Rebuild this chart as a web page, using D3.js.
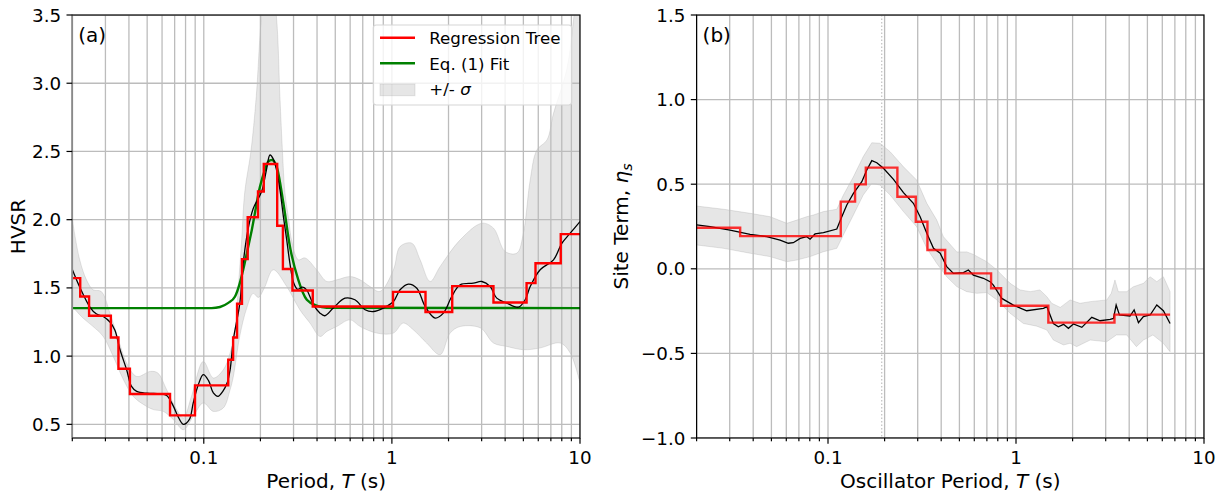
<!DOCTYPE html>
<html><head><meta charset="utf-8">
<script src="https://cdn.jsdelivr.net/npm/d3@7"></script>
<style>body{margin:0;background:#fff} svg{display:block} text{font-family:"DejaVu Sans",sans-serif;fill:#000}</style>
</head><body><svg id="c" width="1225" height="496"></svg>
<script>
// ---------- Panel (a) data ----------
const hvsrT = [0.02,0.022,0.0248,0.0268,0.0292,0.0317,0.0337,0.0358,0.0389,0.0412,0.044,0.050,0.0589,0.0635,0.069,0.0728,0.0779,0.0837,0.0879,0.0935,0.0994,0.106,0.1124,0.119,0.126,0.133,0.138,0.1436,0.1555,0.162,0.172,0.183,0.203,0.215,0.2249,0.235,0.244,0.254,0.265,0.276,0.287,0.3,0.315,0.335,0.352,0.383,0.415,0.44,0.488,0.563,0.636,0.72,0.797,0.90,1.019,1.105,1.224,1.357,1.502,1.697,1.878,2.08,2.306,2.71,3.008,3.33,3.61,4.08,4.71,5.11,5.435,6.14,7.23,8.02,8.87,10];
const hvsrMean = [1.635,1.50,1.36,1.31,1.29,1.25,1.19,1.05,0.90,0.78,0.742,0.728,0.724,0.712,0.632,0.56,0.50,0.534,0.657,0.79,0.864,0.82,0.73,0.705,0.74,0.803,0.90,1.12,1.389,1.68,1.93,2.08,2.206,2.36,2.474,2.44,2.36,2.22,2.023,1.852,1.68,1.54,1.49,1.505,1.486,1.376,1.315,1.296,1.352,1.425,1.413,1.34,1.327,1.352,1.40,1.486,1.528,1.498,1.364,1.279,1.315,1.437,1.523,1.535,1.547,1.51,1.425,1.389,1.359,1.413,1.51,1.633,1.706,1.828,1.901,1.986];

const hvsrUpT = [0.02,0.0219,0.0238,0.0258,0.0285,0.0317,0.0352,0.0389,0.044,0.052,0.057,0.0635,0.0718,0.0779,0.086,0.0994,0.1124,0.127,0.138,0.1466,0.1525,0.159,0.165,0.178,0.19,0.203,0.222,0.243,0.254,0.262,0.27,0.283,0.293,0.318,0.345,0.398,0.451,0.509,0.60,0.678,0.765,0.865,1.019,1.105,1.276,1.413,1.597,1.805,2.306,3.008,3.467,4.0,4.617,5.0,5.435,5.9,6.67,7.23,8.5,9.3,10];
const hvsrUp = [2.0,1.706,1.559,1.486,1.474,1.316,1.12,0.949,0.851,0.888,0.876,0.754,0.608,0.547,0.705,0.961,0.840,0.90,1.023,1.19,1.5,1.85,2.2,2.5,2.9,3.5,3.9,3.5,2.9,2.5,2.2,2.0,1.85,1.706,1.72,1.633,1.547,1.559,1.583,1.559,1.51,1.474,1.633,1.803,1.828,1.706,1.547,1.657,1.852,1.974,1.938,1.767,1.755,1.901,2.291,2.511,2.584,2.78,3.1,3.5,3.9];
const hvsrLoT = [0.02,0.0228,0.0258,0.0292,0.033,0.0374,0.0422,0.048,0.054,0.061,0.069,0.0779,0.0879,0.0994,0.1124,0.127,0.138,0.1436,0.1555,0.169,0.183,0.195,0.21,0.234,0.276,0.324,0.367,0.415,0.451,0.509,0.60,0.678,0.831,1.019,1.148,1.30,1.53,1.805,2.04,2.306,2.96,3.467,4.08,5.0,6.1,7.85,8.87,10];
const hvsrLo = [1.364,1.279,1.217,1.144,0.998,0.827,0.705,0.644,0.608,0.595,0.534,0.461,0.559,0.657,0.595,0.620,0.754,0.851,1.15,1.35,1.46,1.43,1.50,1.633,1.51,1.34,1.242,1.144,1.181,1.217,1.266,1.217,1.169,1.169,1.242,1.193,1.096,1.01,1.169,1.217,1.206,1.096,1.071,1.047,1.059,1.096,1.023,0.803];

const treeAEdges = [0.02,0.02204,0.02456,0.03207,0.03518,0.04049,0.06616,0.0898,0.1349,0.1432,0.1503,0.1596,0.1712,0.1942,0.2084,0.2456,0.2634,0.2960,0.3796,1.014,1.509,2.093,3.467,5.2,5.8,7.9];
const treeAEnd = 10;
const treeAVals = [1.572,1.437,1.296,1.137,0.908,0.722,0.566,0.786,0.974,1.137,1.384,1.711,2.018,2.206,2.408,1.955,1.638,1.481,1.364,1.471,1.323,1.513,1.393,1.535,1.681,1.894];

const fitT = [0.02,0.11,0.122,0.135,0.1466,0.155,0.162,0.171,0.18,0.199,0.212,0.22,0.23,0.244,0.265,0.287,0.318,0.353,0.398,0.45,10];
const fitV = [1.352,1.352,1.36,1.39,1.437,1.53,1.633,1.78,1.925,2.242,2.37,2.425,2.437,2.389,2.12,1.803,1.559,1.413,1.37,1.355,1.352];

// ---------- Panel (b) data ----------
const siteT = [0.02,0.0236,0.0301,0.0385,0.0472,0.0556,0.0615,0.0654,0.0711,0.0771,0.0803,0.0853,0.0946,0.1114,0.1184,0.1259,0.1365,0.1513,0.1608,0.171,0.1818,0.1972,0.223,0.252,0.2846,0.309,0.3354,0.364,0.395,0.428,0.465,0.525,0.558,0.593,0.671,0.728,0.758,0.84,0.968,1.14,1.40,1.46,1.58,1.68,1.79,1.90,2.02,2.24,2.53,2.80,3.17,3.30,3.41,3.55,4.04,4.25,4.48,4.76,5.17,5.61,6.08,6.6];
const siteVal = [0.259,0.249,0.229,0.204,0.19,0.170,0.151,0.154,0.180,0.19,0.175,0.206,0.214,0.235,0.308,0.377,0.446,0.515,0.584,0.639,0.627,0.594,0.529,0.450,0.387,0.308,0.210,0.121,0.092,0.013,-0.027,-0.023,-0.007,-0.037,-0.056,-0.076,-0.096,-0.175,-0.215,-0.248,-0.234,-0.224,-0.323,-0.343,-0.328,-0.352,-0.326,-0.346,-0.287,-0.307,-0.299,-0.293,-0.214,-0.273,-0.279,-0.243,-0.318,-0.282,-0.273,-0.214,-0.248,-0.323];
const siteUpT = [0.02,0.0278,0.0385,0.0492,0.0604,0.0683,0.0771,0.0836,0.0946,0.1114,0.1207,0.1365,0.154,0.171,0.189,0.214,0.252,0.296,0.3354,0.379,0.411,0.484,0.547,0.593,0.699,0.791,0.931,1.052,1.19,1.34,1.46,1.55,1.72,1.94,2.19,2.48,3.04,3.21,3.36,3.5,3.88,4.21,4.76,5.17,5.61,6.08,6.6];
const siteUp = [0.371,0.352,0.328,0.308,0.269,0.288,0.308,0.318,0.338,0.352,0.436,0.544,0.663,0.745,0.742,0.692,0.603,0.525,0.387,0.288,0.19,0.10,0.10,0.085,0.042,-0.007,-0.086,-0.125,-0.135,-0.125,-0.165,-0.204,-0.228,-0.184,-0.204,-0.194,-0.184,-0.145,-0.066,-0.135,-0.135,-0.106,-0.086,-0.047,-0.076,-0.047,-0.135];
const siteLoT = [0.02,0.0278,0.0385,0.0492,0.0604,0.0683,0.0803,0.0946,0.1114,0.1207,0.1365,0.154,0.171,0.189,0.214,0.252,0.296,0.3354,0.379,0.428,0.484,0.547,0.62,0.699,0.791,0.931,1.094,1.29,1.46,1.58,1.79,1.94,2.1,2.48,3.04,3.42,3.88,4.37,4.76,5.35,6.08,6.6];
const siteLo = [0.141,0.121,0.092,0.072,0.042,0.052,0.072,0.101,0.121,0.200,0.318,0.436,0.505,0.495,0.436,0.338,0.249,0.121,0.032,-0.047,-0.105,-0.135,-0.145,-0.14,-0.184,-0.263,-0.323,-0.339,-0.362,-0.421,-0.45,-0.44,-0.46,-0.421,-0.431,-0.391,-0.391,-0.46,-0.421,-0.391,-0.44,-0.49];
const treeBEdges = [0.02,0.0341,0.1169,0.1393,0.1589,0.2339,0.293,0.338,0.42,0.737,0.833,1.486,3.34];
const treeBEnd = 6.6;
const treeBVals = [0.243,0.193,0.397,0.499,0.598,0.426,0.278,0.111,-0.027,-0.115,-0.218,-0.318,-0.271];
const peakMarkT = 0.193;

// ---------- tick labels ----------
const xTickLabels = ["0.1","1","10"];
const xTickVals = [0.1,1,10];
const yTicksA = [0.5,1.0,1.5,2.0,2.5,3.0,3.5];
const yTicksB = [-1.0,-0.5,0.0,0.5,1.0,1.5];

const svg = d3.select("#c");
const TOP = 15, BOT = 438;
const FS_TICK = 18.3, FS_LAB = 20, FS_LEG = 16.67;
const GRID = "#bcbcbc";

const allX = [];
[0.01,0.1,1].forEach(d => { for (let k=1;k<=9;k++){ const v=+(k*d).toPrecision(3); if (v>=0.02 && v<=10) allX.push(v);} });
allX.push(10);

function fmtY(v){ const s = v.toFixed(1); return v<0 ? "\u2212"+s.slice(1) : s; }

function panel(o){
  const x = d3.scaleLog().domain([0.02,10]).range([o.x0,o.x1]);
  const y = d3.scaleLinear().domain(o.yDom).range([BOT,TOP]);
  const g = svg.append("g");
  const cid = "clip"+o.id;
  svg.append("clipPath").attr("id",cid).append("rect").attr("x",o.x0).attr("y",TOP).attr("width",o.x1-o.x0).attr("height",BOT-TOP);
  const pg = g.append("g").attr("clip-path",`url(#${cid})`);
  const lineFn = c => d3.line().x(d=>x(d[0])).y(d=>y(d[1])).curve(c);
  const up = d3.zip(o.upT,o.up), lo = d3.zip(o.loT,o.lo).reverse();
  const p1 = lineFn(o.bandCurve)(up), p2 = lineFn(o.bandCurve)(lo);
  pg.append("path").attr("d", p1 + "L" + p2.slice(1) + "Z")
    .attr("fill","rgba(128,128,128,0.2)").attr("stroke","rgba(128,128,128,0.2)").attr("stroke-width",1);
  pg.selectAll(".vg").data(allX).join("line").attr("x1",d=>x(d)).attr("x2",d=>x(d)).attr("y1",TOP).attr("y2",BOT)
    .attr("stroke",GRID).attr("stroke-width",1.3);
  pg.selectAll(".hg").data(o.yTicks).join("line").attr("x1",o.x0).attr("x2",o.x1).attr("y1",d=>y(d)).attr("y2",d=>y(d))
    .attr("stroke",GRID).attr("stroke-width",1.3);
  if (o.mark) pg.append("line").attr("x1",x(o.mark)).attr("x2",x(o.mark)).attr("y1",TOP).attr("y2",BOT)
    .attr("stroke","#c8c8c8").attr("stroke-width",1.4).attr("stroke-dasharray","1.5,2");
  if (o.fitT) pg.append("path").attr("d", lineFn(d3.curveMonotoneX)(d3.zip(o.fitT,o.fitV))).attr("fill","none").attr("stroke","#008000").attr("stroke-width",2.4);
  pg.append("path").attr("d", lineFn(o.meanCurve)(d3.zip(o.meanT,o.mean))).attr("fill","none").attr("stroke","#000").attr("stroke-width",1.3);
  const steps = d3.zip(o.treeEdges,o.treeVals); steps.push([o.treeEnd,o.treeVals[o.treeVals.length-1]]);
  pg.append("path").attr("d", lineFn(d3.curveStepAfter)(steps)).attr("fill","none").attr("stroke","#ff0000")
    .attr("stroke-opacity",o.treeOpacity).attr("stroke-width",2.4);
  if (o.id==="b" && o.fitT) {}
  // spines
  g.append("rect").attr("x",o.x0).attr("y",TOP).attr("width",o.x1-o.x0).attr("height",BOT-TOP).attr("fill","none").attr("stroke","#000").attr("stroke-width",1.2);
  if (o.greyLeft) g.append("line").attr("x1",o.x0).attr("x2",o.x0).attr("y1",TOP+0.6).attr("y2",BOT-0.6).attr("stroke","#8a8a8a").attr("stroke-width",1.6);
  // x ticks
  g.selectAll(".xt").data(allX).join("line").attr("x1",d=>x(d)).attr("x2",d=>x(d)).attr("y1",BOT)
    .attr("y2",d=>BOT+(xTickVals.includes(d)?5.8:3.3)).attr("stroke","#000").attr("stroke-width",1.2);
  g.selectAll(".xl").data(xTickVals).join("text").attr("x",d=>x(d)).attr("y",BOT+25.5).attr("text-anchor","middle")
    .attr("font-size",FS_TICK).text((d,i)=>xTickLabels[i]);
  // y ticks
  g.selectAll(".yt").data(o.yTicks).join("line").attr("x1",o.x0-5.8).attr("x2",o.x0).attr("y1",d=>y(d)).attr("y2",d=>y(d)).attr("stroke","#000").attr("stroke-width",1.2);
  g.selectAll(".yl").data(o.yTicks).join("text").attr("x",o.x0-11.2).attr("y",d=>y(d)).attr("dy","0.36em").attr("text-anchor","end")
    .attr("font-size",FS_TICK).text(d=>fmtY(d));
  const xl = g.append("text").attr("x",(o.x0+o.x1)/2).attr("y",488).attr("text-anchor","middle").attr("font-size",FS_LAB);
  xl.append("tspan").text(o.xLabel);
  xl.append("tspan").attr("font-style","italic").text("T");
  xl.append("tspan").text(" (s)");
  g.append("text").attr("x",o.x0+6).attr("y",42).attr("font-size",FS_LAB).text(o.letter);
  return {g,x,y};
}

panel({id:"a",x0:72.3,x1:580,yDom:[0.4,3.5],yTicks:yTicksA,upT:hvsrUpT,up:hvsrUp,loT:hvsrLoT,lo:hvsrLo,
  bandCurve:d3.curveCatmullRom,meanT:hvsrT,mean:hvsrMean,meanCurve:d3.curveCatmullRom,
  treeEdges:treeAEdges,treeVals:treeAVals,treeEnd:treeAEnd,treeOpacity:1,fitT:fitT,fitV:fitV,greyLeft:true,
  xLabel:"Period, ",letter:"(a)"});
panel({id:"b",x0:696.6,x1:1204,yDom:[-1,1.5],yTicks:yTicksB,upT:siteUpT,up:siteUp,loT:siteLoT,lo:siteLo,
  bandCurve:d3.curveLinear,meanT:siteT,mean:siteVal,meanCurve:d3.curveLinear,
  treeEdges:treeBEdges,treeVals:treeBVals,treeEnd:treeBEnd,treeOpacity:0.8,mark:peakMarkT,
  xLabel:"Oscillator Period, ",letter:"(b)"});

svg.append("text").attr("transform","translate(25,226.5) rotate(-90)").attr("text-anchor","middle").attr("font-size",FS_LAB).text("HVSR");
const yb = svg.append("text").attr("transform","translate(628,226.5) rotate(-90)").attr("text-anchor","middle").attr("font-size",FS_LAB);
yb.append("tspan").text("Site Term, ");
yb.append("tspan").attr("font-style","italic").text("\u03B7");
yb.append("tspan").attr("font-style","italic").attr("font-size",14).attr("dy",4).text("s");

const lg = svg.append("g");
lg.append("rect").attr("x",373.3).attr("y",25).attr("width",198.4).attr("height",80).attr("rx",3)
  .attr("fill","rgba(255,255,255,0.8)").attr("stroke","#d6d6d6").attr("stroke-width",1.2);
const legItems = [{t:"Regression Tree",c:"#ff0000"},{t:"Eq. (1) Fit",c:"#008000"}];
legItems.forEach((d,i)=>{
  const yy = 37.7 + i*25.6;
  lg.append("line").attr("x1",380).attr("x2",415).attr("y1",yy).attr("y2",yy).attr("stroke",d.c).attr("stroke-width",2.4);
  lg.append("text").attr("x",429.3).attr("y",yy+6.3).attr("font-size",FS_LEG).text(d.t);
});
lg.append("rect").attr("x",380).attr("y",84).attr("width",35).attr("height",11.7).attr("fill","rgba(128,128,128,0.2)").attr("stroke","rgba(128,128,128,0.2)");
const lt = lg.append("text").attr("x",429.3).attr("y",95.3).attr("font-size",FS_LEG);
lt.append("tspan").text("+/- ");
lt.append("tspan").attr("font-style","italic").text("\u03C3");
</script></body></html>
